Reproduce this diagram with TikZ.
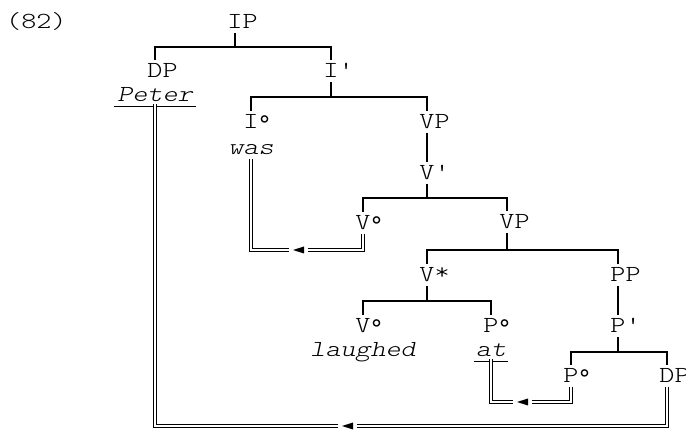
\documentclass[tikz,border=0pt]{standalone}
\usepackage{fontspec}
\setmonofont{lmmonolt10-regular.otf}[ItalicFont=lmmonolt10-oblique.otf, FakeStretch=1.25]
\newfontfamily\dgfont{DejaVu Sans}
\tikzset{
  lab/.style={font=\ttfamily\fontsize{23}{24}\selectfont, inner sep=0pt, anchor=base, outer ysep=4pt},
  word/.style={font=\ttfamily\itshape\fontsize{23}{24}\selectfont, inner xsep=0pt, inner ysep=4pt, anchor=base},
  tree/.style={line width=1.7pt},
  dbl/.style={double, double distance=2pt, line width=1.1pt},
  ul/.style={line width=1.3pt},
  tip/.style={fill=black},
}
\newcommand{\lb}[2]{#1\rlap{#2}}
\newcommand{\mydeg}{\smash{\raisebox{-5pt}{\dgfont\fontsize{24}{24}\selectfont °}}}
\newcommand{\mystar}{\raisebox{2pt}{*}}
\begin{document}
\begin{tikzpicture}[x=1pt,y=-1pt]
\useasboundingbox (0,0) rectangle (686,430);
% labels
\node[lab, anchor=base west] (ex) at (6,29) {(82)};
\node[lab] (IP) at (235,29) {\lb{I}{P}};
\node[lab] (DP) at (155,78) {\lb{D}{P}};
\node[lab] (Ib) at (331,78) {\lb{I}{\textquotesingle}};
\node[word] (peter) at (155,102) {Peter};
\node[lab] (I0) at (251,129) {\lb{I}{\mydeg}};
\node[lab] (VP) at (427,129) {\lb{V}{P}};
\node[word] (was) at (251,155) {was};
\node[lab] (Vb) at (427,180) {\lb{V}{\textquotesingle}};
\node[lab] (V0) at (363,230) {\lb{V}{\mydeg}};
\node[lab] (VPb) at (507,229) {\lb{V}{P}};
\node[lab] (Vs) at (427,282) {\lb{V}{\mystar}};
\node[lab] (PP) at (618,282) {\lb{P}{P}};
\node[lab] (V0b) at (363,333) {\lb{V}{\mydeg}};
\node[lab] (P0) at (491,333) {\lb{P}{\mydeg}};
\node[lab] (Pb) at (618,333) {\lb{P}{\textquotesingle}};
\node[word] (laughed) at (363,357) {laughed};
\node[word] (at) at (491,357) {at};
\node[lab] (P0b) at (571,383) {\lb{P}{\mydeg}};
\node[lab] (DPb) at (667,383) {\lb{D}{P}};
% underlines
\draw[ul] ([xshift=-3pt]peter.south west) -- ([xshift=3pt]peter.south east);
\draw[ul] ([xshift=-2pt]at.south west) -- ([xshift=2pt]at.south east);
% tree
\coordinate (b1) at (235,47);
\draw[tree] (IP.south) -- (b1);
\draw[tree] (DP.north) |- (b1) -| (Ib.north);
\coordinate (b2) at (331,97);
\draw[tree] (Ib.south) -- (b2);
\draw[tree] (I0.north) |- (b2) -| (VP.north);
\draw[tree] (VP.south) -- (Vb.north);
\coordinate (b3) at (427,198);
\draw[tree] (Vb.south) -- (b3);
\draw[tree] (V0.north) |- (b3) -| (VPb.north);
\coordinate (b4) at (507,250);
\draw[tree] (VPb.south) -- (b4);
\draw[tree] (Vs.north) |- (b4) -| (PP.north);
\coordinate (b5) at (427,301);
\draw[tree] (Vs.south) -- (b5);
\draw[tree] (V0b.north) |- (b5) -| (P0.north);
\draw[tree] (PP.south) -- (Pb.north);
\coordinate (b6) at (618,352);
\draw[tree] (Pb.south) -- (b6);
\draw[tree] (P0b.north) |- (b6) -| (DPb.north);
% movement lines
\coordinate (m1) at (251,250);
\draw[dbl] (was.south) -- (m1) -| (V0.south);
\coordinate (m2) at (491,402);
\draw[dbl] ([yshift=2pt]at.south) -- (m2) -| (P0b.south);
\coordinate (m3) at (155,426);
\draw[dbl] ([yshift=2pt]peter.south) -- (m3) -| (DPb.south);
% arrow heads
\fill[white] (289,245) rectangle (308,255);
\fill[tip] (293,250) -- (304,246.5) -- (304,253.5) -- cycle;
\fill[white] (513,397) rectangle (532,407);
\fill[tip] (517,402) -- (528,398.5) -- (528,405.5) -- cycle;
\fill[white] (338,421) rectangle (357,431);
\fill[tip] (342,426) -- (353,422.5) -- (353,429.5) -- cycle;
\end{tikzpicture}
\end{document}
